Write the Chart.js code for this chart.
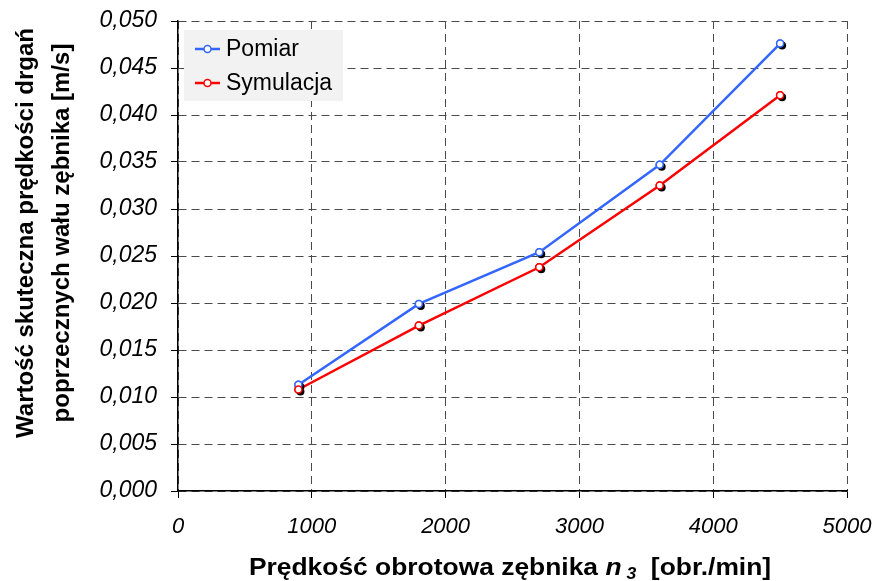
<!DOCTYPE html>
<html>
<head>
<meta charset="utf-8">
<script src="https://cdn.jsdelivr.net/npm/chart.js@4/dist/chart.umd.min.js"></script>
<style>
  html, body { margin: 0; padding: 0; background: #fff; }
  canvas { display: block; }
</style>
</head>
<body>
<canvas id="chart" width="874" height="581"></canvas>
<script>
const FONT = '"Liberation Sans", Arial, sans-serif';

// data
const speeds = [900, 1800, 2700, 3600, 4500];
const pomiar = [0.0113, 0.0199, 0.0254, 0.0347, 0.0476];
const symulacja = [0.0108, 0.0176, 0.0238, 0.0325, 0.0421];
const seriesNames = ['Pomiar', 'Symulacja'];
const seriesColors = ['#3366ff', '#ff0000'];
const yTitle = ['Wartość skuteczna prędkości drgań', 'poprzecznych wału zębnika [m/s]'];

const toPoints = (vals) => speeds.map((s, i) => ({x: s, y: vals[i]}));

// black offset shadow under each marker, then redraw the marker
const markerShadow = {
    id: 'markerShadow',
    afterDatasetsDraw(chart) {
        const ctx = chart.ctx;
        chart.data.datasets.forEach((ds, di) => {
            const meta = chart.getDatasetMeta(di);
            meta.data.forEach(pt => {
                ctx.save();
                ctx.beginPath();
                ctx.fillStyle = '#000';
                ctx.arc(pt.x + 2, pt.y + 2, 4, 0, Math.PI * 2);
                ctx.fill();
                ctx.restore();
                pt.draw(ctx);
            });
        });
    }
};

// legend box inside the plot, axis titles (x one has italic n3)
const extras = {
    id: 'extras',
    afterDraw(chart) {
        const ctx = chart.ctx;
        ctx.save();
        // legend
        ctx.fillStyle = '#f2f2f2';
        ctx.fillRect(184, 30, 159, 71);
        seriesNames.forEach((name, i) => {
            const cy = 49 + i * 34;
            ctx.strokeStyle = seriesColors[i];
            ctx.lineWidth = 2.5;
            ctx.beginPath();
            ctx.moveTo(195, cy);
            ctx.lineTo(220, cy);
            ctx.stroke();
            ctx.beginPath();
            ctx.fillStyle = '#fff';
            ctx.lineWidth = 1.5;
            ctx.arc(207.5, cy, 3.5, 0, Math.PI * 2);
            ctx.fill();
            ctx.stroke();
            ctx.fillStyle = '#000';
            ctx.font = '23px ' + FONT;
            ctx.textBaseline = 'middle';
            ctx.textAlign = 'left';
            ctx.fillText(name, 226, cy + 1);
        });

        // x title
        const parts = [
            {t: 'Prędkość obrotowa zębnika ', f: 'bold 24px ' + FONT, dy: 0},
            {t: 'n', f: 'italic bold 24px ' + FONT, dy: 0},
            {t: ' 3', f: 'italic bold 16px ' + FONT, dy: 4},
            {t: '  [obr./min]', f: 'bold 24px ' + FONT, dy: 0}
        ];
        const sx = 1.1;
        let total = 0;
        parts.forEach(p => { ctx.font = p.f; p.w = ctx.measureText(p.t).width; total += p.w; });
        ctx.save();
        ctx.translate(510 - total * sx / 2, 575);
        ctx.scale(sx, 1);
        let x = 0;
        ctx.fillStyle = '#000';
        ctx.textBaseline = 'alphabetic';
        ctx.textAlign = 'left';
        parts.forEach(p => {
            ctx.font = p.f;
            ctx.fillText(p.t, x, p.dy);
            x += p.w;
        });
        ctx.restore();

        // y title, two lines rotated
        ctx.save();
        ctx.translate(0, 233);
        ctx.rotate(-Math.PI / 2);
        ctx.font = 'bold 24px ' + FONT;
        ctx.textAlign = 'center';
        ctx.textBaseline = 'middle';
        ctx.fillStyle = '#000';
        yTitle.forEach((line, i) => ctx.fillText(line, 0, 26 + i * 36));
        ctx.restore();
        ctx.restore();
    }
};

const datasets = [pomiar, symulacja].map((vals, i) => ({
    label: seriesNames[i],
    data: toPoints(vals),
    borderColor: seriesColors[i],
    backgroundColor: '#ffffff',
    borderWidth: 2.5,
    pointRadius: 3.5,
    pointBorderWidth: 1.5,
    pointBorderColor: seriesColors[i],
    pointBackgroundColor: '#ffffff',
    showLine: true,
    tension: 0
}));

new Chart(document.getElementById('chart'), {
    type: 'scatter',
    data: {datasets},
    options: {
        responsive: false,
        animation: false,
        layout: {padding: {left: 0, top: 21, right: 27, bottom: 0}},
        plugins: {
            legend: {display: false},
            tooltip: {enabled: false}
        },
        scales: {
            x: {
                type: 'linear',
                min: 0,
                max: 5000,
                afterFit: (s) => { s.height = 90; s.paddingRight = 0; s.paddingLeft = 0; },
                ticks: {
                    stepSize: 1000,
                    color: '#000',
                    padding: 16,
                    font: {family: FONT, size: 22, style: 'italic'},
                    callback: (v) => String(v)
                },
                grid: {
                    color: '#4a4a4a',
                    lineWidth: 1,
                    tickLength: 7,
                    tickColor: '#000',
                    tickBorderDash: []
                },
                border: {display: true, color: '#000', width: 1.5, dash: [8, 5]},
                title: {display: false}
            },
            y: {
                min: 0,
                max: 0.05,
                afterFit: (s) => { s.width = 178; s.paddingTop = 0; s.paddingBottom = 0; },
                ticks: {
                    stepSize: 0.005,
                    color: '#000',
                    padding: 14,
                    font: {family: FONT, size: 23, style: 'italic'},
                    callback: (v) => v.toFixed(3).replace('.', ',')
                },
                grid: {
                    color: '#4a4a4a',
                    lineWidth: 1,
                    tickLength: 7,
                    tickColor: '#000',
                    tickBorderDash: []
                },
                border: {display: true, color: '#000', width: 1.5, dash: [8, 5]},
                title: {display: false}
            }
        }
    },
    plugins: [markerShadow, extras]
});
</script>
</body>
</html>
